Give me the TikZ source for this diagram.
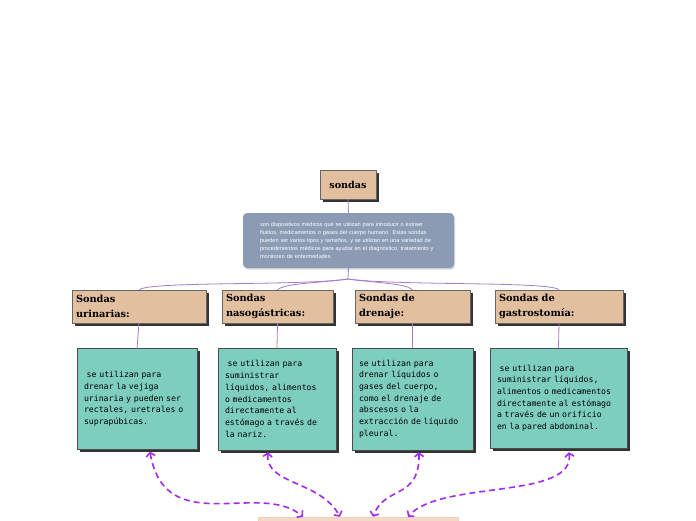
\documentclass[tikz,border=0pt]{standalone}
\usepackage{fontspec}
\newfontfamily\monof{DejaVu Sans Mono}
\newfontfamily\sansf{Liberation Sans}
\newfontfamily\serifb{DejaVu Serif}
\usetikzlibrary{shadows,arrows.meta}
\definecolor{peach}{HTML}{E2BF9F}
\definecolor{teal2}{HTML}{7ECEC0}
\definecolor{bluegray}{HTML}{8A9BB3}
\definecolor{conn}{HTML}{A77CCB}
\definecolor{dashc}{HTML}{A22BF2}
\definecolor{botc}{HTML}{F5D9C4}
\tikzset{
  shd/.style={drop shadow={shadow xshift=2.5pt,shadow yshift=-2.5pt,fill=black!80,opacity=1}},
  title/.style={shd,draw=black!60,line width=0.4pt,fill=peach,font=\serifb\bfseries\fontsize{9.6}{12}\selectfont,inner sep=0pt},
  hdr/.style={shd,draw=black!60,line width=0.4pt,fill=peach,font=\serifb\bfseries\fontsize{9.8}{14.5}\selectfont,align=left,inner xsep=4pt,inner ysep=0pt},
  desc/.style={shd,draw=black!70,line width=0.4pt,fill=teal2,font=\monof\fontsize{8.2}{11.7}\selectfont,align=left,inner xsep=7pt,inner ysep=0pt},
  bluebox/.style={fill=bluegray,rounded corners=4pt,text=white,font=\sansf\fontsize{5.6}{8}\selectfont,align=left,inner xsep=17pt,inner ysep=0pt,
    drop shadow={shadow xshift=1pt,shadow yshift=-1.5pt,fill=black!25,opacity=0.6}},
  cl/.style={draw=conn,line width=0.8pt},
  dar/.style={draw=dashc,line width=1.6pt,dash pattern=on 6pt off 4pt,{Straight Barb[length=3.5pt,width=9pt]}-{Straight Barb[length=3.5pt,width=9pt]}}
}
\begin{document}
\begin{tikzpicture}[x=1pt,y=-1pt]
\useasboundingbox (0,0) rectangle (696,520);
\fill[white] (0,0) rectangle (696,520);

\node[title,minimum width=56pt,minimum height=29pt] (s) at (348,184.5) {sondas};
\node[bluebox,minimum width=211pt,minimum height=55pt,text width=177pt] (b) at (348.5,240.5)
{son dispositivos médicos que se utilizan para introducir o extraer\\
fluidos, medicamentos o gases del cuerpo humano. Estas sondas\\
pueden ser varios tipos y tamaños, y se utilizan en una variedad de\\
procedimientos médicos para ayudar en el diagnóstico, tratamiento y\\
monitoreo de enfermedades};

\node[hdr,minimum width=134pt,minimum height=33pt,text width=126pt] (h1) at (139,306.5) {Sondas\\urinarias:};
\node[hdr,minimum width=111pt,minimum height=33pt,text width=103pt] (h2) at (277.5,306.5) {Sondas\\nasogástricas:};
\node[hdr,minimum width=115pt,minimum height=33pt,text width=107pt] (h3) at (412.5,306.5) {Sondas de\\drenaje:};
\node[hdr,minimum width=128pt,minimum height=33pt,text width=120pt] (h4) at (559,306.5) {Sondas de\\gastrostomía:};

\node[desc,minimum width=120pt,minimum height=101pt,text width=106pt] (t1) at (137,399)
{\ se utilizan para\\drenar la vejiga\\urinaria y pueden ser\\rectales, uretrales o\\suprapúbicas.};
\node[desc,minimum width=118pt,minimum height=102pt,text width=104pt] (t2) at (277,399)
{\ se utilizan para\\suministrar\\líquidos, alimentos\\o medicamentos\\directamente al\\estómago a través de\\la nariz.};
\node[desc,minimum width=121pt,minimum height=102pt,text width=107pt] (t3) at (412.5,399)
{se utilizan para\\drenar líquidos o\\gases del cuerpo,\\como el drenaje de\\abscesos o la\\extracción de líquido\\pleural.};
\node[desc,minimum width=137pt,minimum height=100pt,text width=123pt] (t4) at (558.5,398)
{\ se utilizan para\\suministrar líquidos,\\alimentos o medicamentos\\directamente al estómago\\a través de un orificio\\en la pared abdominal.};

\node[fill=botc,draw=peach!70,minimum width=200pt,minimum height=26pt,inner sep=0pt] (bot) at (358,530) {};

\coordinate (j) at (348,279);
\draw[cl] (s.south) -- (b.north);
\draw[cl] (b.south) -- (j);
\draw[cl] (j) .. controls (300,286) and (150,281) .. (h1.north);
\draw[cl] (j) .. controls (320,283) and (285,283) .. (h2.north);
\draw[cl] (j) .. controls (375,283) and (405,283) .. (h3.north);
\draw[cl] (j) .. controls (400,286) and (550,281) .. (h4.north);
\draw[cl] (h1.south) -- (t1.north);
\draw[cl] (h2.south) -- (t2.north);
\draw[cl] (h3.south) -- (t3.north);
\draw[cl] (h4.south) -- (t4.north);

\draw[dar] ([xshift=13pt,yshift=-2pt]t1.south) .. controls (165,540) and (260,480) .. ([xshift=-55pt]bot.north);
\draw[dar] ([xshift=-9pt,yshift=-2pt]t2.south) .. controls (265,485) and (320,480) .. ([xshift=-18pt]bot.north);
\draw[dar] ([xshift=6.5pt,yshift=-2pt]t3.south) .. controls (420,500) and (385,485) .. ([xshift=15pt]bot.north);
\draw[dar] ([xshift=10.5pt,yshift=-4pt]t4.south) .. controls (575,500) and (440,480) .. ([xshift=50pt]bot.north);
\end{tikzpicture}
\end{document}
